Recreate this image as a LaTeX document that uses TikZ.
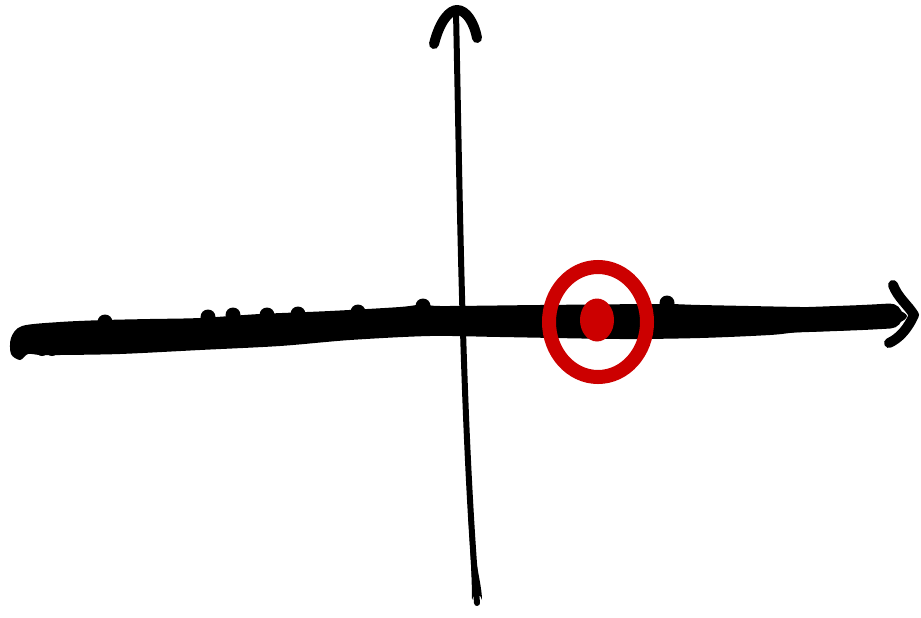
\documentclass[tikz,border=0pt]{standalone}
\usetikzlibrary{calc}
\definecolor{penred}{RGB}{204,0,0}
\tikzset{
  ink/.style={draw=black, line cap=round, line join=round},
  redink/.style={draw=penred, line width=14pt, line cap=round},
}
\begin{document}
\begin{tikzpicture}[x=1pt,y=-1pt]
\useasboundingbox (0,0) rectangle (921,618);
% vertical axis shaft
\coordinate (vtop) at (456,12);
\coordinate (vbot) at (477,603);
\draw[ink, line width=6pt] (vtop) .. controls (460,200) and (462,420) .. (vbot);
\fill[black] (471.5,520) .. controls (474,560) and (482,585) .. (482,600) arc[start angle=0, end angle=-180, radius=5] .. controls (472,585) and (471,560) .. (468.5,520) -- cycle;
% top arrowhead
\draw[ink, line width=10pt] (434,44) .. controls (440,20) and (450,10) .. (457,10) .. controls (466,10) and (474,22) .. (477,38);
% horizontal thick bar
\draw[ink, line width=25pt] plot[smooth, tension=0.5] coordinates {(24,341) (100,337) (200,333) (300,327) (430,320) (600,321) (750,321) (850,318) (890,316)};
\fill[black] plot[smooth cycle, tension=0.5] coordinates {
 (22,326) (60,322) (105,320) (150,319) (200,318) (260,314) (330,311) (400,307)
 (425,304) (440,306) (540,305) (660,304) (700,305) (800,307) (870,308) (895,309)
 (907,316)
 (895,324) (850,330) (800,332) (770,335) (700,338) (620,339) (500,337) (430,336)
 (350,340) (280,346) (200,350) (120,354) (60,355) (40,355) (28,354) (20,360) (11,354) (11,338)
};
\foreach \bx/\by in {208/317, 233/315, 267/315, 298/314, 358/312, 423/306, 667/303, 105/322}
  \fill[black] (\bx,\by) circle (7.5);
\foreach \bx/\by in {42/350, 52/350}
  \fill[black] (\bx,\by) circle (6);
% right arrowhead
\coordinate (htip) at (914,315);
\draw[ink, line width=10pt] (893,285) .. controls (898,298) and (908,305) .. (htip) .. controls (908,328) and (900,338) .. (889,343);
% red target
\draw[redink] (598,322) ellipse [x radius=49, y radius=55];
\fill[penred] (597,320) ellipse [x radius=17, y radius=21.5];
\end{tikzpicture}
\end{document}
